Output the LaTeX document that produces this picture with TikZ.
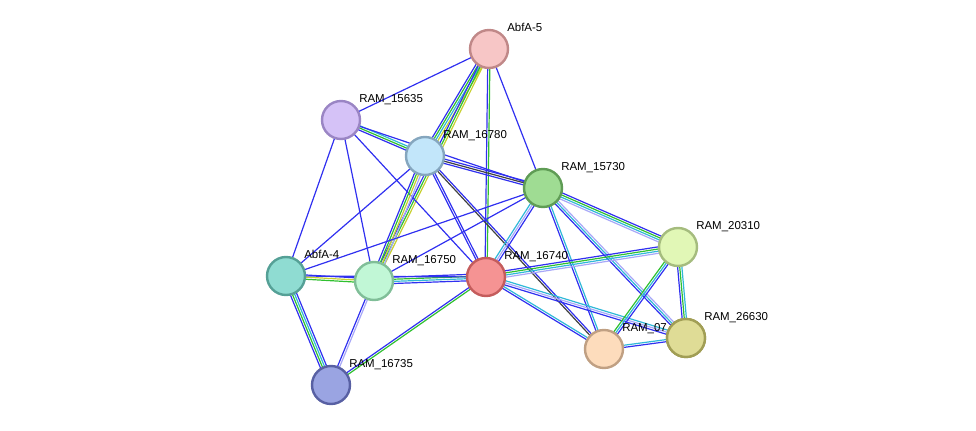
\documentclass[tikz,border=0pt]{standalone}
\usepackage{fontspec}
\setmainfont{Liberation Sans}
\usetikzlibrary{calc}
\pgfdeclarelayer{bg}\pgfsetlayers{bg,main}
\definecolor{B}{HTML}{3030F0}
\definecolor{G}{HTML}{30C030}
\definecolor{K}{HTML}{404040}
\definecolor{C}{HTML}{30B8D8}
\definecolor{P}{HTML}{A8A8F8}
\definecolor{Y}{HTML}{C8D030}
\newcommand\edg[4]{\begin{pgfonlayer}{bg}\foreach \c [count=\i] in {#4}{%
 \draw[draw=\c,line width=0.9pt] let \p1=($(#2.center)-(#1.center)$), \n1={atan2(\y1,\x1)+90}, \n2={(\i-(#3+1)/2)*1.6} in
  ($(#1.center)+(\n1:\n2 pt)$) -- ($(#2.center)+(\n1:\n2 pt)$);}\end{pgfonlayer}}
\tikzset{
 nd/.style={circle,minimum size=28.5pt,inner sep=0pt,line width=1.8pt},
 lb/.style={font=\fontsize{8.6pt}{9pt}\selectfont,anchor=base west,inner sep=0pt}}
\newcommand\nd[6]{\definecolor{f#1}{HTML}{#4}\definecolor{d#1}{HTML}{#5}%
 \node[nd,fill=f#1,draw=d#1] (#1) at (#2,#3) {};
 \node[lb] (#1-l) at ($(#2,#3)+(18,-17)$) {#6};}
\begin{document}
\begin{tikzpicture}[x=0.75pt,y=-0.75pt]
\useasboundingbox (0,0) rectangle (976,431);
\nd{a5}{489}{49}{F7C6C6}{C08888}{AbfA-5}
\nd{r635}{341}{120}{D5C2F7}{9A85C4}{RAM\_15635}
\nd{r780}{425}{156}{C2E6FA}{85A6BE}{RAM\_16780}
\nd{r730}{543}{188}{9FDC93}{5F9C55}{RAM\_15730}
\nd{r310}{678}{247}{E1F7B6}{A5BC7E}{RAM\_20310}
\nd{a4}{286}{276}{8FDCD2}{55A096}{AbfA-4}
\nd{r750}{374}{281}{C1F7D6}{80BE98}{RAM\_16750}
\nd{r740}{486}{277}{F59393}{C45C5C}{RAM\_16740}
\nd{r07}{604}{349}{FDDCBC}{C0A083}{RAM\_07}
\nd{r630}{686}{338}{DFDC96}{A19E55}{RAM\_26630}
\nd{r735}{331}{385}{9AA4E2}{5860A3}{RAM\_16735}
\edg{a5}{r635}{1}{B}
\edg{a5}{r780}{4}{B,G,C,Y}
\edg{a5}{r750}{3}{B,G,Y}
\edg{a5}{r740}{2}{B,G}
\edg{a5}{r730}{1}{B}
\edg{r635}{r780}{3}{B,G,C}
\edg{r635}{r730}{1}{B}
\edg{r635}{a4}{1}{B}
\edg{r635}{r750}{1}{B}
\edg{r635}{r740}{1}{B}
\edg{r780}{r730}{3}{B,K,B}
\edg{r780}{a4}{1}{B}
\edg{r780}{r750}{4}{B,G,Y,P}
\edg{r780}{r740}{2}{B,B}
\edg{r780}{r07}{2}{K,B}
\edg{r730}{a4}{1}{B}
\edg{r730}{r750}{1}{B}
\edg{r730}{r740}{3}{C,P,B}
\edg{r730}{r310}{4}{P,C,G,B}
\edg{r730}{r630}{3}{B,C,P}
\edg{r730}{r07}{2}{B,C}
\edg{r740}{r310}{4}{P,C,G,B}
\edg{r740}{r630}{3}{B,P,C}
\edg{r740}{r07}{2}{B,C}
\edg{r740}{r750}{4}{B,G,C,B}
\edg{r740}{a4}{1}{B}
\edg{r740}{r735}{2}{B,G}
\edg{r750}{a4}{3}{B,Y,G}
\edg{r750}{r735}{2}{B,P}
\edg{a4}{r735}{4}{B,G,C,B}
\edg{r310}{r630}{3}{B,G,C}
\edg{r310}{r07}{3}{G,C,B}
\edg{r07}{r630}{2}{B,C}
\node[nd,fill=fr630,draw=dr630] (r630b) at (r630) {};
\end{tikzpicture}
\end{document}
